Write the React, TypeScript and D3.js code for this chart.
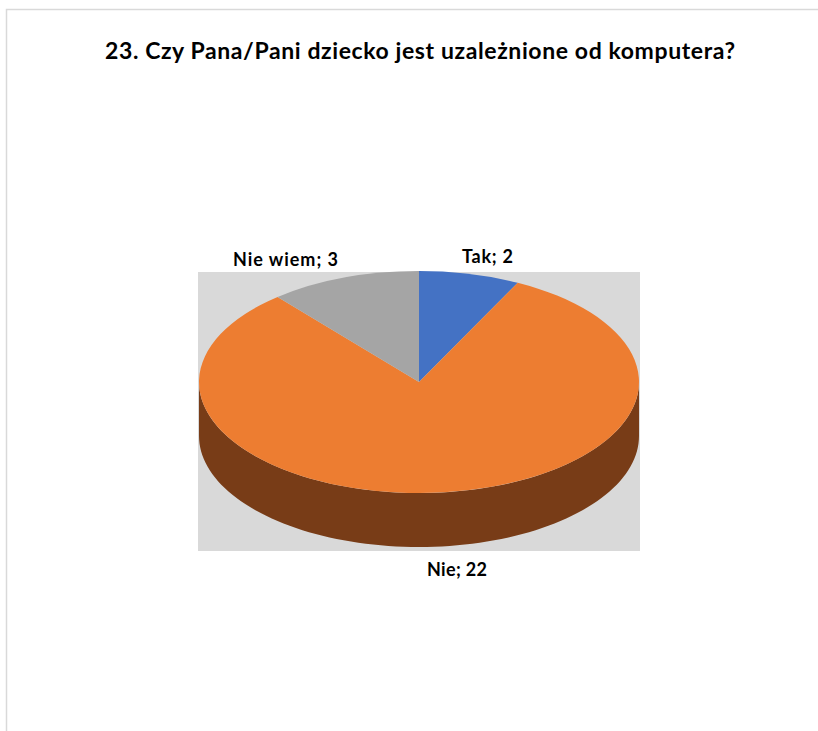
import React from "react";
import * as d3 from "d3";

const title = "23. Czy Pana/Pani dziecko jest uzależnione od komputera?";
const categories = ["Tak", "Nie", "Nie wiem"];
const values = [2, 22, 3];
const colors = ["#4472c4", "#ed7d31", "#a5a5a5"];
const sideColor = "#783c17";

const W = 818, H = 731;
const cx = 419, cy = 382, rx = 220, ry = 111, depth = 54;

export default function App() {
  const slices = d3.pie<number>().sort(null)(values);
  const arc = d3.arc<d3.PieArcDatum<number>>().innerRadius(0).outerRadius(rx);
  // Front wall of the cylinder: lower half of the rim, extruded downward.
  const sx = d3.scaleLinear().domain([-1, 1]).range([cx - rx, cx + rx]);
  const sy = d3.scaleLinear().domain([-1, 1]).range([cy - ry, cy + ry]);
  const angles = d3.range(0, 181, 2).map((d) => (d * Math.PI) / 180);
  const front = angles.map((a) => [sx(Math.cos(a)), sy(Math.sin(a))] as [number, number]);
  const back = [...front].reverse().map(([x, y]) => [x, y + depth] as [number, number]);
  const side = d3.line()([...front, ...back]) + "Z";

  const labels = [
    { t: `${categories[0]}; ${values[0]}`, x: 487.5, y: 263, w: 51 },
    { t: `${categories[1]}; ${values[1]}`, x: 457, y: 576, w: 60 },
    { t: `${categories[2]}; ${values[2]}`, x: 285.5, y: 266, w: 105 },
  ];
  return (
    <svg width={W} height={H} viewBox={`0 0 ${W} ${H}`} style={{ position: "absolute", left: 0, top: 0, background: "#fff" }}>
      <path d={`M6.5 ${H}V9.5H${W}`} fill="none" stroke="#d9d9d9" strokeWidth={1.5} />
      <text x={420} y={59} textAnchor="middle" textLength={630} lengthAdjust="spacing" fontFamily="Lato, 'Open Sans', sans-serif" fontWeight={700} fontSize={23} fill="#000">{title}</text>
      <rect x={198} y={272} width={442} height={279} fill="#d9d9d9" />
      <path d={side} fill={sideColor} />
      <g transform={`translate(${cx},${cy}) scale(1,${ry / rx})`}>
        {slices.map((s, i) => (
          <path key={categories[i]} d={arc(s) ?? ""} fill={colors[i]} />
        ))}
      </g>
      {labels.map((l) => (
        <text key={l.t} x={l.x} y={l.y} textAnchor="middle" textLength={l.w} lengthAdjust="spacing" fontFamily="Lato, 'Open Sans', sans-serif" fontWeight={700} fontSize={18} fill="#000">{l.t}</text>
      ))}
    </svg>
  );
}
